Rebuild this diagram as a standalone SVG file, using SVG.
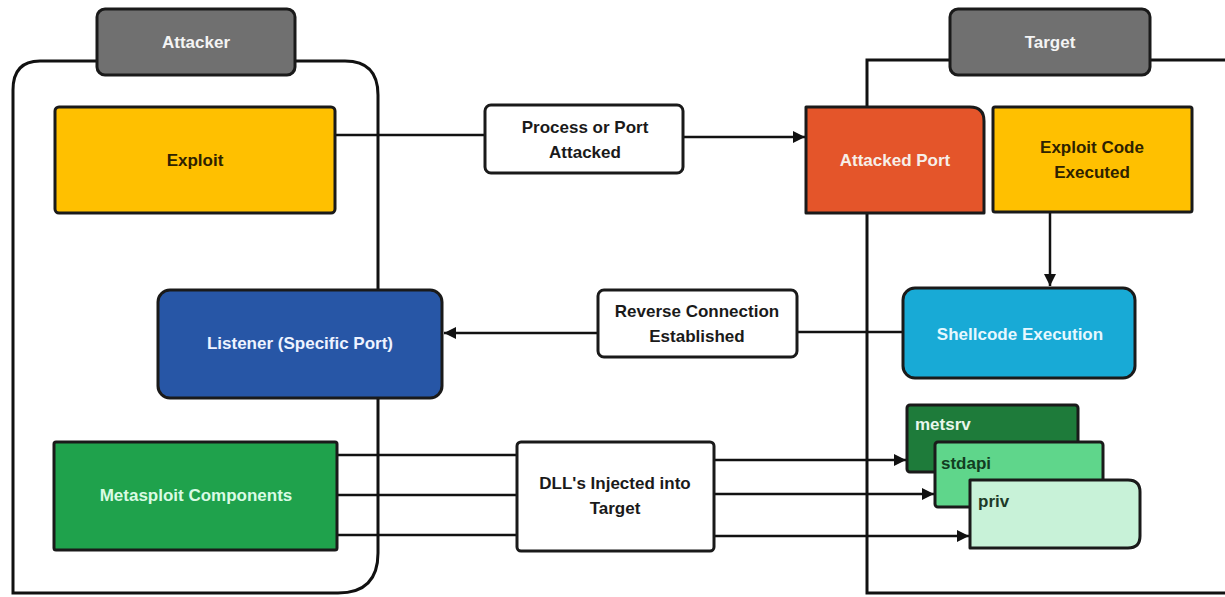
<svg xmlns="http://www.w3.org/2000/svg" width="1225" height="597" viewBox="0 0 1225 597">
<defs>
<marker id="ah" viewBox="0 0 10 10" refX="10" refY="5" markerWidth="12" markerHeight="12" markerUnits="userSpaceOnUse" orient="auto">
<path d="M0,0 L10,5 L0,10 Z" fill="#111"/>
</marker>
<style>
.box{stroke:#1a1a1a;stroke-width:3;stroke-linejoin:round}
.cont{fill:none;stroke:#111;stroke-width:3}
.line{fill:none;stroke:#111;stroke-width:2.5}
.t{font-family:"Liberation Sans",Arial,sans-serif;font-weight:bold;font-size:17px;text-anchor:middle;dominant-baseline:central}
.tl{font-family:"Liberation Sans",Arial,sans-serif;font-weight:bold;font-size:17px;dominant-baseline:central}
</style>
</defs>
<rect width="1225" height="597" fill="#ffffff"/>

<g id="attacker-container">
<path class="cont" d="M97,61 H40 Q13,61 13,90 V593 H338 Q378,593 378,553 V95 Q378,61 345,61 H295"/>
</g>
<g id="target-container">
<path class="cont" d="M950,60 H867 V593 H1225 M1150,60 H1225"/>
</g>

<g id="connectors">
<path class="line" d="M335,135 H485"/>
<path class="line" d="M683,137 H805" marker-end="url(#ah)"/>
<path class="line" d="M1050,213 V286" marker-end="url(#ah)"/>
<path class="line" d="M903,332 H797"/>
<path class="line" d="M598,333 H444" marker-end="url(#ah)"/>
<path class="line" d="M337,455 H517"/>
<path class="line" d="M337,495 H517"/>
<path class="line" d="M337,535 H517"/>
<path class="line" d="M714,460 H906" marker-end="url(#ah)"/>
<path class="line" d="M714,494 H934" marker-end="url(#ah)"/>
<path class="line" d="M714,536 H969" marker-end="url(#ah)"/>
</g>

<g id="attacker-tab">
<rect class="box" x="97" y="9" width="198" height="66" rx="8" fill="#707070"/>
<text class="t" x="196" y="42" fill="#f4f4f4">Attacker</text>
</g>
<g id="target-tab">
<rect class="box" x="950" y="9" width="200" height="66" rx="8" fill="#707070"/>
<text class="t" x="1050" y="42" fill="#f4f4f4">Target</text>
</g>

<g id="exploit">
<rect class="box" x="55" y="107" width="280" height="106" rx="4" fill="#FFC000"/>
<text class="t" x="195" y="160" fill="#2e2200">Exploit</text>
</g>
<g id="process-or-port-attacked">
<rect class="box" x="485" y="105" width="198" height="68" rx="6" fill="#ffffff"/>
<text class="t" x="585" y="127" fill="#1a1a1a">Process or Port</text>
<text class="t" x="585" y="152" fill="#1a1a1a">Attacked</text>
</g>
<g id="attacked-port">
<path class="box" d="M806,107 H970 Q984,107 984,121 V213 H806 Z" fill="#E4552A"/>
<text class="t" x="895" y="160" fill="#f6efe8">Attacked Port</text>
</g>
<g id="exploit-code-executed">
<rect class="box" x="993" y="107" width="199" height="105" rx="2" fill="#FFC000"/>
<text class="t" x="1092" y="147" fill="#2e2200">Exploit Code</text>
<text class="t" x="1092" y="172" fill="#2e2200">Executed</text>
</g>
<g id="shellcode-execution">
<rect class="box" x="903" y="288" width="232" height="90" rx="12" fill="#18AAD6"/>
<text class="t" x="1020" y="334" fill="#e6f8ff">Shellcode Execution</text>
</g>
<g id="reverse-connection-established">
<rect class="box" x="598" y="290" width="199" height="67" rx="6" fill="#ffffff"/>
<text class="t" x="697" y="311" fill="#1a1a1a">Reverse Connection</text>
<text class="t" x="697" y="336" fill="#1a1a1a">Established</text>
</g>
<g id="listener">
<rect class="box" x="158" y="290" width="284" height="108" rx="12" fill="#2756A6"/>
<text class="t" x="300" y="343" fill="#eef3ff">Listener (Specific Port)</text>
</g>
<g id="metasploit-components">
<rect class="box" x="54" y="442" width="283" height="108" rx="2" fill="#1FA24C"/>
<text class="t" x="196" y="495" fill="#d9fbe4">Metasploit Components</text>
</g>
<g id="dlls-injected-into-target">
<rect class="box" x="517" y="442" width="197" height="109" rx="4" fill="#ffffff"/>
<text class="t" x="615" y="483" fill="#1a1a1a">DLL's Injected into</text>
<text class="t" x="615" y="508" fill="#1a1a1a">Target</text>
</g>
<g id="metsrv">
<rect class="box" x="907" y="405" width="171" height="67" rx="3" fill="#1E7B3A"/>
<text class="tl" x="915" y="424" fill="#e8f7ec">metsrv</text>
</g>
<g id="stdapi">
<rect class="box" x="935" y="442" width="168" height="65" rx="3" fill="#5FD68B"/>
<text class="tl" x="941" y="463" fill="#123d22">stdapi</text>
</g>
<g id="priv">
<path class="box" d="M970,480 H1128 Q1140,480 1140,492 V536 Q1140,548 1128,548 H970 Z" fill="#C8F2D8"/>
<text class="tl" x="978" y="501" fill="#1d3a28">priv</text>
</g>
</svg>
